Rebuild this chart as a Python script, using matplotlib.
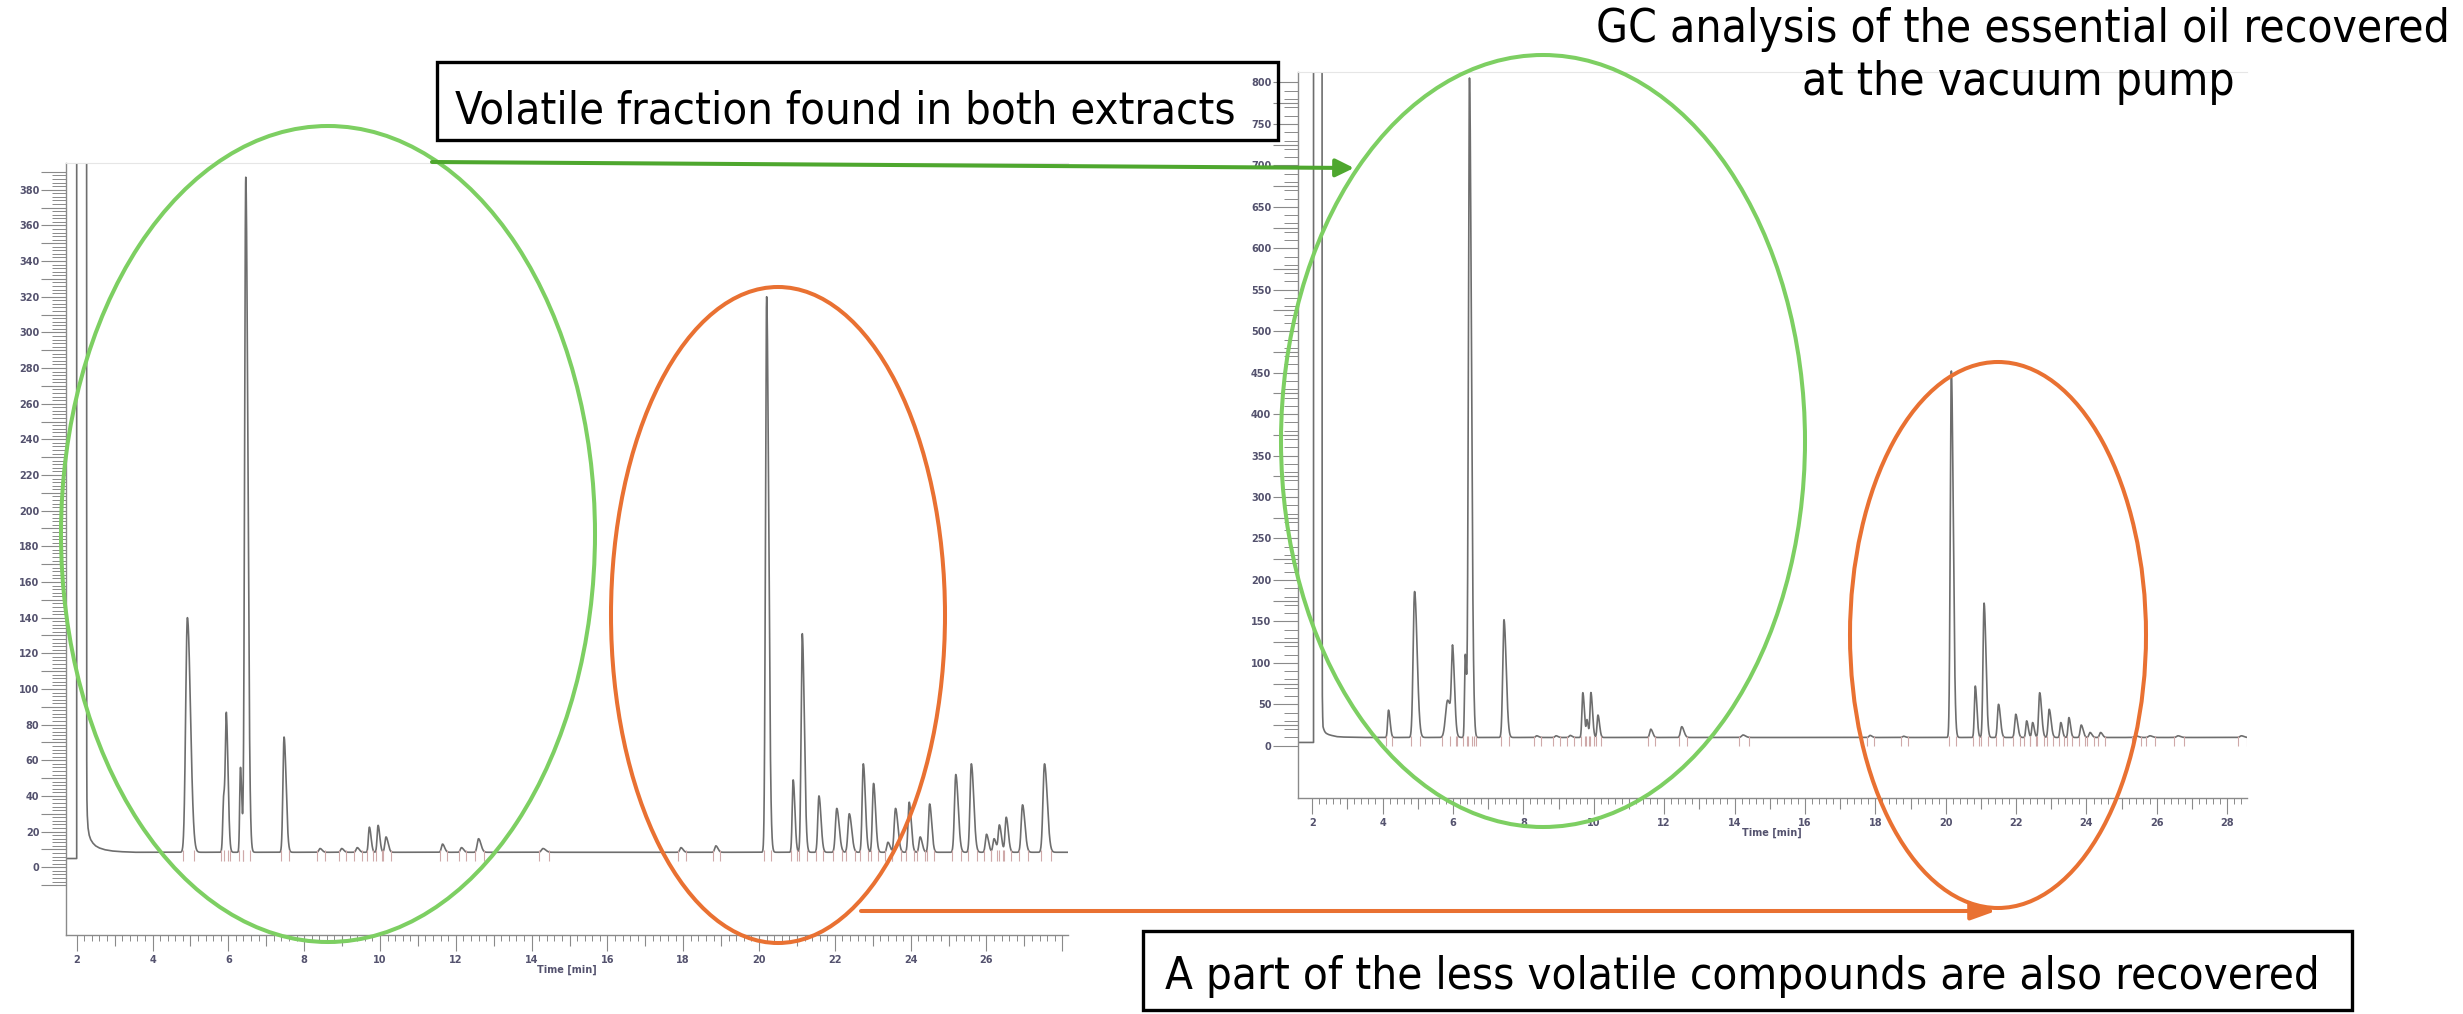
import numpy as np
import matplotlib
matplotlib.use('Agg')
import matplotlib.pyplot as plt
from matplotlib.patches import Ellipse, Rectangle
from matplotlib import font_manager
from matplotlib.font_manager import FontProperties

# ---- data ----
# left: extract chromatogram (baseline ~8.4)
left_base = 8.4
left_rt = [4.92, 5.88, 5.95, 6.32, 6.46, 7.47, 8.42, 8.99, 9.40, 9.72, 9.95, 10.16,
           11.65, 12.15, 12.60, 14.30, 17.94, 18.86, 20.20, 20.90, 21.14, 21.58,
           22.05, 22.38, 22.75, 23.02, 23.40, 23.60, 23.96, 24.25, 24.50, 25.19,
           25.60, 26.00, 26.20, 26.34, 26.52, 26.95, 27.53]
left_apex = [140, 40, 77, 56, 387, 73, 10.5, 10.5, 11, 22.5, 23.5, 17,
             13, 11, 16, 10.5, 11, 12, 320, 49, 131, 40,
             33, 30, 58, 47, 14, 33, 36.5, 17, 35.5, 52,
             58, 18.5, 16, 23.5, 28, 35, 58]
left_width = [0.045, 0.025, 0.025, 0.02, 0.03, 0.03, 0.03, 0.03, 0.03, 0.025, 0.025, 0.03,
              0.03, 0.03, 0.035, 0.04, 0.03, 0.03, 0.03, 0.025, 0.03, 0.03,
              0.035, 0.035, 0.03, 0.03, 0.03, 0.035, 0.03, 0.03, 0.03, 0.035,
              0.035, 0.03, 0.03, 0.03, 0.03, 0.035, 0.04]
left_solvent_t = [1.71, 2.0, 2.0, 2.26, 2.262, 2.265, 2.27, 2.28, 2.30, 2.33, 2.37,
                  2.43, 2.50, 2.60, 2.75, 2.95, 3.20, 3.45]
left_solvent_v = [4.9, 4.9, 900, 900, 200, 60, 38, 29, 22, 18, 15.5,
                  13.5, 12, 10.8, 9.8, 9.1, 8.7, 8.45]
left_end = 28.15

# right: essential oil recovered at the vacuum pump (baseline ~10)
right_base = 10.0
right_rt = [4.17, 4.91, 5.85, 5.99, 6.35, 6.47, 6.58, 7.45, 8.38, 8.93, 9.33, 9.69,
            9.81, 9.92, 10.12, 11.62, 12.50, 14.24, 17.85, 18.80, 20.16, 20.84,
            21.09, 21.50, 21.99, 22.30, 22.47, 22.67, 22.94, 23.27, 23.50, 23.85,
            24.10, 24.40, 25.40, 25.80, 26.60, 28.40]
right_apex = [43, 186, 55, 102, 110, 805, 25, 152, 12, 12, 12.5, 64,
              30, 64, 37, 20, 23, 13, 12.5, 11.5, 452, 72,
              172, 50, 38, 30, 28, 64, 44, 28, 34, 25,
              16, 16, 12, 12, 12, 12]
right_width = [0.025, 0.04, 0.06, 0.03, 0.02, 0.03, 0.02, 0.035, 0.03, 0.03, 0.03, 0.025,
               0.02, 0.025, 0.025, 0.03, 0.035, 0.04, 0.03, 0.03, 0.03, 0.025,
               0.03, 0.03, 0.03, 0.025, 0.025, 0.03, 0.03, 0.025, 0.025, 0.03,
               0.03, 0.03, 0.04, 0.04, 0.04, 0.04]
right_solvent_t = [1.59, 2.04, 2.04, 2.28, 2.285, 2.29, 2.30, 2.31, 2.33, 2.36, 2.40,
                   2.47, 2.55, 2.71, 2.90, 3.20, 3.45]
right_solvent_v = [4, 4, 1500, 1500, 170, 60, 35, 23, 20, 17, 15,
                   13.5, 12.5, 11, 10.5, 10.2, 10.0]
right_end = 28.56

# annotation texts
box_top_text = "Volatile fraction found in both extracts"
box_bottom_text = "A part of the less volatile compounds are also recovered"
title_lines = ["GC analysis of the essential oil recovered", "at the vacuum pump"]

W, H = 2463, 1014
LABEL_COLOR = '#54526e'
AX_COLOR = '#8a8a8a'
TRACE_COLOR = '#6e6e6e'
GREEN = '#7dcf62'
DARK_GREEN = '#4ea72e'
ORANGE = '#e97132'


def pick_narrow():
    for f in font_manager.fontManager.ttflist:
        n = f.name.lower()
        st = str(f.stretch).lower()
        if (('narrow' in n or 'condensed' in n or st in ('condensed', 'semi-condensed'))
                and f.style == 'normal' and f.weight in (400, 'normal', 'regular')):
            return FontProperties(fname=f.fname)
    return FontProperties(family='Roboto')


NARROW = pick_narrow()


def chromatogram(rt, apex, width, base, t):
    y = np.full_like(t, base)
    for r, a, w in zip(rt, apex, width):
        s = np.where(t < r, w, w * 1.8)
        y += (a - base) * np.exp(-0.5 * ((t - r) / s) ** 2)
    return y


def px_rect(x0, x1, ytop, ybot):
    return [x0 / W, 1 - ybot / H, (x1 - x0) / W, (ybot - ytop) / H]


def draw_chrom(ax, rt, apex, width, base, sol_t, sol_v, end, tick_dn, tick_up):
    t = np.arange(sol_t[-1], end, 0.002)
    y = chromatogram(rt, apex, width, base, t)
    ax.plot(np.concatenate([sol_t, t]), np.concatenate([sol_v, y]),
            color=TRACE_COLOR, lw=1.2)
    # integration marks below the baseline
    marks = np.concatenate([np.array(rt) - 2.5 * np.array(width),
                            np.array(rt) + 4 * np.array(width)])
    ax.vlines(marks, base - tick_dn, base + tick_up, color='#cfa9a9', lw=0.8)


def ruler(ax, xlim, ylim, xlab_max, ymaj, ylab_step, ymin_step, ylo, yhi):
    ax.set_xlim(*xlim)
    ax.set_ylim(*ylim)
    ax.patch.set_alpha(0)
    ax.spines['right'].set_visible(False)
    ax.spines['top'].set_color('#e6e6e6')
    for s in ['left', 'bottom']:
        ax.spines[s].set_color(AX_COLOR)
        ax.spines[s].set_linewidth(1.0)
    xt = np.arange(2, xlim[1] + 1e-9, 1.0)
    ax.set_xticks(xt)
    ax.set_xticklabels([f'{v:.0f}' if (v % 2 == 0 and v <= xlab_max) else '' for v in xt])
    ax.set_xticks(np.arange(2, xlim[1], 0.2), minor=True)
    yt = np.arange(ylo, yhi + 1e-9, ymaj)
    ax.set_yticks(yt)
    ax.set_yticklabels([f'{v:.0f}' if (v >= 0 and v % ylab_step == 0) else '' for v in yt])
    ax.set_yticks(np.arange(ylo, yhi + 1e-9, ymin_step), minor=True)
    ax.tick_params(axis='x', which='major', length=11.5, width=0.8, color=AX_COLOR,
                   pad=3, labelsize=7, labelcolor=LABEL_COLOR)
    ax.tick_params(axis='x', which='minor', length=4.5, width=0.7, color=AX_COLOR)
    ax.tick_params(axis='y', which='major', length=18, width=0.8, color=AX_COLOR,
                   pad=1, labelsize=7, labelcolor=LABEL_COLOR)
    ax.tick_params(axis='y', which='minor', length=10, width=0.7, color=AX_COLOR)
    for tk, v in zip(ax.xaxis.get_major_ticks(), xt):
        tk.tick1line.set_markersize(11.5 if v % 2 == 0 else 8)
    for lab in ax.get_xticklabels() + ax.get_yticklabels():
        lab.set_fontweight('bold')
    ax.set_xlabel('Time [min]', fontsize=7, fontweight='bold', color=LABEL_COLOR)


fig = plt.figure(figsize=(W / 100, H / 100), dpi=100)
fig.patch.set_facecolor('white')

axl = fig.add_axes(px_rect(65.7, 1068, 163, 935))
draw_chrom(axl, left_rt, left_apex, left_width, left_base,
           left_solvent_t, left_solvent_v, left_end, 5, 1)
ruler(axl, (1.71, 28.15), (-38, 395), 26, 10, 20, 2, -10, 390)
axl.xaxis.set_label_coords(0.5, -0.039)

axr = fig.add_axes(px_rect(1297.7, 2247, 71.7, 798))
draw_chrom(axr, right_rt, right_apex, right_width, right_base,
           right_solvent_t, right_solvent_v, right_end, 10, 2)
ruler(axr, (1.59, 28.56), (-63, 813), 28, 25, 50, 10, 0, 800)
axr.xaxis.set_label_coords(0.5, -0.041)

# ---- overlay in pixel coordinates for the annotations ----
ov = fig.add_axes([0, 0, 1, 1], zorder=10)
ov.set_xlim(0, W)
ov.set_ylim(H, 0)
ov.axis('off')
ov.patch.set_alpha(0)

ov.add_patch(Ellipse((328, 534), 534, 816, fill=False, ec=GREEN, lw=2.9))
ov.add_patch(Ellipse((1543, 441), 524, 772, fill=False, ec=GREEN, lw=2.9))
ov.add_patch(Ellipse((778, 615), 334, 656, fill=False, ec=ORANGE, lw=2.9))
ov.add_patch(Ellipse((1998, 635), 296, 546, fill=False, ec=ORANGE, lw=2.9))

ov.annotate('', xy=(1354, 168), xytext=(432, 162),
            arrowprops=dict(arrowstyle='-|>,head_length=0.55,head_width=0.27',
                            mutation_scale=20, color=DARK_GREEN, lw=2.9,
                            shrinkA=0, shrinkB=0))
ov.annotate('', xy=(1996, 911), xytext=(861, 911),
            arrowprops=dict(arrowstyle='-|>,head_length=0.75,head_width=0.27',
                            mutation_scale=20, color=ORANGE, lw=2.9,
                            shrinkA=0, shrinkB=0))

ov.add_patch(Rectangle((437, 62), 841, 78, fc='none', ec='black', lw=2.4))
ov.add_patch(Rectangle((1143, 931), 1209, 79, fc='none', ec='black', lw=2.4))

renderer = fig.canvas.get_renderer()


def fit_text(x, y, s, width, **kw):
    t = ov.text(x, y, s, fontproperties=NARROW.copy(), color='black',
                va='baseline', **kw)
    t.set_fontsize(40)
    w = t.get_window_extent(renderer).width
    t.set_fontsize(40 * width / w)
    return t


fit_text(455, 123, box_top_text, 778, ha='left')
fit_text(1165, 989, box_bottom_text, 1152, ha='left')
t1 = fit_text(2023, 42, title_lines[0], 853, ha='center')
t2 = ov.text(2018, 95, title_lines[1], fontproperties=NARROW.copy(),
             color='black', va='baseline', ha='center')
t2.set_fontsize(t1.get_fontsize())

fig.savefig('out.png', dpi=100, facecolor='white')
